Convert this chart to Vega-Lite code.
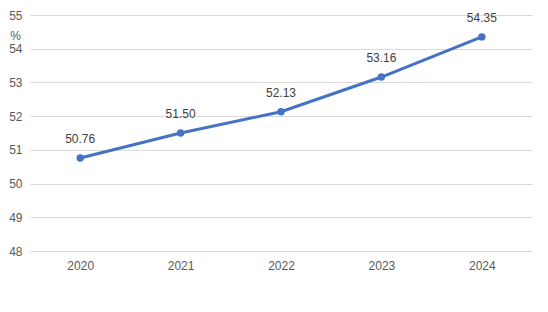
{
  "$schema": "https://vega.github.io/schema/vega-lite/v6.json",
  "width": 502,
  "height": 236,
  "autosize": "none",
  "padding": {"left": 30, "top": 15, "right": 16, "bottom": 61},
  "background": "white",
  "config": {
    "view": {"stroke": null},
    "font": "Liberation Sans",
    "axis": {
      "labelFont": "Liberation Sans",
      "labelFontSize": 12,
      "labelColor": "#595959",
      "ticks": false,
      "domain": false,
      "gridColor": "#d9d9d9",
      "gridWidth": 1
    }
  },
  "data": {
    "values": [
      {"year": "2020", "value": 50.76},
      {"year": "2021", "value": 51.50},
      {"year": "2022", "value": 52.13},
      {"year": "2023", "value": 53.16},
      {"year": "2024", "value": 54.35}
    ]
  },
  "encoding": {
    "x": {
      "field": "year",
      "type": "nominal",
      "scale": {"paddingInner": 0, "paddingOuter": 0.5},
      "axis": {"title": null, "labelAngle": 0, "labelPadding": 9, "grid": false}
    },
    "y": {
      "field": "value",
      "type": "quantitative",
      "scale": {"domain": [48, 55], "nice": false, "zero": false},
      "axis": {
        "title": "%",
        "titleAngle": 0,
        "titleX": -15,
        "titleY": 20,
        "titleAlign": "center",
        "titleBaseline": "middle",
        "titleFont": "Liberation Sans",
        "titleFontSize": 12,
        "titleFontWeight": "normal",
        "titleColor": "#595959",
        "values": [48, 49, 50, 51, 52, 53, 54, 55],
        "labelPadding": 8,
        "grid": true
      }
    }
  },
  "layer": [
    {
      "mark": {"type": "line", "color": "#4472C4", "strokeWidth": 3}
    },
    {
      "mark": {"type": "point", "filled": true, "color": "#4472C4", "size": 55, "opacity": 1}
    },
    {
      "mark": {"type": "text", "dy": -19, "baseline": "middle", "fontSize": 12, "color": "#404040", "font": "Liberation Sans"},
      "encoding": {"text": {"field": "value", "type": "quantitative", "format": ".2f"}}
    }
  ]
}
